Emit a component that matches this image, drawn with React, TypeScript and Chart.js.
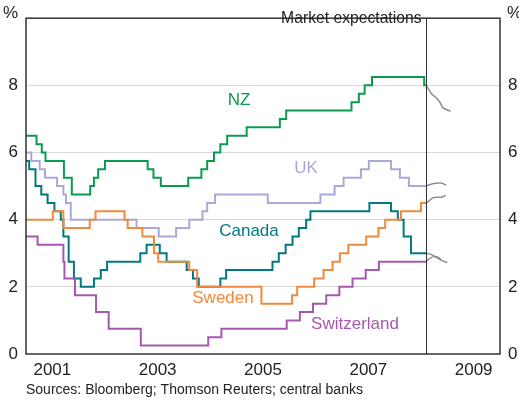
import React, { useEffect, useRef } from 'react';
import { Chart, registerables } from 'chart.js';
Chart.register(...registerables);

// ---- Data (decimal years, policy rates %) ----
const nzDates = [2001.0, 2001.2, 2001.3, 2001.37, 2001.72, 2001.87, 2002.22, 2002.29, 2002.37, 2002.5, 2003.31, 2003.42, 2003.56, 2004.08, 2004.33, 2004.44, 2004.57, 2004.69, 2004.82, 2005.19, 2005.82, 2005.94, 2007.18, 2007.32, 2007.43, 2007.57, 2008.56, 2008.6];
const nzRates = [6.5, 6.25, 6.0, 5.75, 5.25, 4.75, 5.0, 5.25, 5.5, 5.75, 5.5, 5.25, 5.0, 5.25, 5.5, 5.75, 6.0, 6.25, 6.5, 6.75, 7.0, 7.25, 7.5, 7.75, 8.0, 8.25, 8.0, 8.0];

const ukDates = [2001.0, 2001.1, 2001.26, 2001.36, 2001.59, 2001.71, 2001.76, 2001.85, 2003.1, 2003.52, 2003.85, 2004.1, 2004.35, 2004.44, 2004.59, 2005.59, 2006.59, 2006.86, 2007.03, 2007.36, 2007.51, 2007.93, 2008.1, 2008.27, 2008.6];
const ukRates = [6.0, 5.75, 5.5, 5.25, 5.0, 4.75, 4.5, 4.0, 3.75, 3.5, 3.75, 4.0, 4.25, 4.5, 4.75, 4.5, 4.75, 5.0, 5.25, 5.5, 5.75, 5.5, 5.25, 5.0, 5.0];

const canadaDates = [2001.0, 2001.06, 2001.18, 2001.29, 2001.41, 2001.54, 2001.66, 2001.71, 2001.81, 2001.91, 2002.04, 2002.29, 2002.42, 2002.54, 2003.17, 2003.29, 2003.54, 2003.67, 2004.05, 2004.17, 2004.28, 2004.69, 2004.8, 2005.68, 2005.8, 2005.93, 2006.06, 2006.18, 2006.32, 2006.4, 2007.52, 2007.93, 2008.06, 2008.17, 2008.31, 2008.6];
const canadaRates = [5.75, 5.5, 5.0, 4.75, 4.5, 4.25, 4.0, 3.5, 2.75, 2.25, 2.0, 2.25, 2.5, 2.75, 3.0, 3.25, 3.0, 2.75, 2.5, 2.25, 2.0, 2.25, 2.5, 2.75, 3.0, 3.25, 3.5, 3.75, 4.0, 4.25, 4.5, 4.25, 4.0, 3.5, 3.0, 3.0];

const swedenDates = [2001.0, 2001.51, 2001.71, 2002.21, 2002.32, 2002.87, 2002.93, 2003.21, 2003.43, 2003.51, 2004.1, 2004.25, 2005.47, 2006.05, 2006.15, 2006.47, 2006.65, 2006.82, 2006.96, 2007.12, 2007.46, 2007.69, 2007.82, 2008.12, 2008.5, 2008.6];
const swedenRates = [4.0, 4.25, 3.75, 4.0, 4.25, 4.0, 3.75, 3.5, 3.0, 2.75, 2.5, 2.0, 1.5, 1.75, 2.0, 2.25, 2.5, 2.75, 3.0, 3.25, 3.5, 3.75, 4.0, 4.25, 4.5, 4.5];

const swissDates = [2001.0, 2001.22, 2001.71, 2001.73, 2001.93, 2002.33, 2002.57, 2003.18, 2004.46, 2004.71, 2005.95, 2006.2, 2006.45, 2006.7, 2006.95, 2007.2, 2007.45, 2007.7, 2008.6];
const swissRates = [3.5, 3.25, 2.75, 2.25, 1.75, 1.25, 0.75, 0.25, 0.5, 0.75, 1.0, 1.25, 1.5, 1.75, 2.0, 2.25, 2.5, 2.75, 2.75];

// Market expectations
const nzExpDates = [2008.6, 2008.695, 2008.78, 2008.85, 2008.92, 2009.06];
const nzExpRates = [8.0, 7.76, 7.64, 7.52, 7.33, 7.23];
const ukExpDates = [2008.6, 2008.72, 2008.88, 2008.98];
const ukExpRates = [5.0, 5.07, 5.09, 5.03];
const swedenExpDates = [2008.6, 2008.68, 2008.74, 2008.9, 2008.97];
const swedenExpRates = [4.5, 4.6, 4.66, 4.67, 4.73];
const canadaExpDates = [2008.6, 2008.7, 2008.8, 2008.9, 2009.0];
const canadaExpRates = [3.0, 2.96, 2.87, 2.78, 2.72];
const swissExpDates = [2008.6, 2008.66, 2008.74, 2008.82, 2008.88];
const swissExpRates = [2.75, 2.84, 2.9, 2.88, 2.82];

const expectationsStart = 2008.6;

const xTickPositions = [2001.5, 2003.5, 2005.5, 2007.5, 2009.5];
const xTickLabels = ['2001', '2003', '2005', '2007', '2009'];
const yMin = 0;
const yMax = 10;
const yStep = 2;

const FONT = 'Arial, "Liberation Sans", Helvetica, sans-serif';
const COLORS = {
  nz: '#0b9a50',
  uk: '#a9a9d9',
  canada: '#007a80',
  sweden: '#ef8a3e',
  swiss: '#a658ae',
  exp: '#8e8e8e',
};

const pts = (xs: number[], ys: number[]) => xs.map((x, i) => ({ x, y: ys[i] }));

const labelsPlugin = {
  id: 'annotations',
  afterDraw(chart: any) {
    const { ctx, chartArea, scales } = chart;
    const { left, right, top, bottom } = chartArea;
    ctx.save();
    // vertical line
    const vx = Math.round(scales.x.getPixelForValue(expectationsStart)) + 0.5;
    ctx.strokeStyle = '#333';
    ctx.lineWidth = 1;
    ctx.beginPath();
    ctx.moveTo(vx, top);
    ctx.lineTo(vx, bottom);
    ctx.stroke();
    // box
    ctx.strokeStyle = '#333';
    ctx.lineWidth = 1.5;
    ctx.strokeRect(left, top, right - left, bottom - top);

    ctx.textBaseline = 'middle';
    ctx.fillStyle = '#222';
    ctx.font = `15.7px ${FONT}`;
    ctx.textAlign = 'right';
    ctx.fillText('Market expectations', vx - 5, 19);

    ctx.font = `17px ${FONT}`;
    ctx.textAlign = 'right';
    ctx.fillText('%', left - 8, 13);
    ctx.textAlign = 'left';
    ctx.fillText('%', right + 7, 13);

    ctx.font = `14px ${FONT}`;
    ctx.textAlign = 'left';
    ctx.fillText('Sources: Bloomberg; Thomson Reuters; central banks', left, 390);

    const lbl = (t: string, c: string, x: number, y: number) => {
      ctx.fillStyle = c;
      ctx.textAlign = 'center';
      ctx.font = `17px ${FONT}`;
      ctx.fillText(t, x, y);
    };
    lbl('NZ', COLORS.nz, 239, 100);
    lbl('UK', COLORS.uk, 306, 168);
    lbl('Canada', COLORS.canada, 249, 231);
    lbl('Sweden', COLORS.sweden, 223, 298);
    lbl('Switzerland', COLORS.swiss, 355, 324);
    ctx.restore();
  },
};

export default function App() {
  const ref = useRef<HTMLCanvasElement | null>(null);
  useEffect(() => {
    document.body.style.margin = '0';
    if (!ref.current) return;
    const step = (data: any, color: string) => ({
      data,
      borderColor: color,
      borderWidth: 2,
      stepped: true,
      pointRadius: 0,
      fill: false,
      borderJoinStyle: 'miter',
      yAxisID: 'y',
    });
    const exp = (data: any) => ({
      data,
      borderColor: COLORS.exp,
      borderWidth: 1.5,
      tension: 0.3,
      pointRadius: 0,
      fill: false,
      yAxisID: 'y',
    });
    const chart = new Chart(ref.current, {
      type: 'line',
      data: {
        datasets: [
          step(pts(swissDates, swissRates), COLORS.swiss),
          step(pts(swedenDates, swedenRates), COLORS.sweden),
          step(pts(ukDates, ukRates), COLORS.uk),
          step(pts(canadaDates, canadaRates), COLORS.canada),
          step(pts(nzDates, nzRates), COLORS.nz),
          exp(pts(nzExpDates, nzExpRates)),
          exp(pts(ukExpDates, ukExpRates)),
          exp(pts(swedenExpDates, swedenExpRates)),
          exp(pts(canadaExpDates, canadaExpRates)),
          exp(pts(swissExpDates, swissExpRates)),
        ] as any,
      },
      options: {
        animation: false,
        responsive: false,
        events: [],
        layout: { padding: { top: 5, left: 0, right: 0, bottom: 0 } },
        plugins: { legend: { display: false }, tooltip: { enabled: false } },
        scales: {
          x: {
            type: 'linear',
            min: 2001,
            max: 2010,
            grid: { display: false, drawTicks: false },
            border: { display: false },
            afterBuildTicks: (scale: any) => {
              scale.ticks = xTickPositions.map((v) => ({ value: v }));
            },
            afterFit: (scale: any) => {
              scale.height = 46;
            },
            ticks: {
              autoSkip: false,
              maxRotation: 0,
              padding: 6,
              color: '#222',
              font: { family: FONT, size: 17 },
              callback: (_v: any, i: number) => xTickLabels[i],
            },
          },
          y: {
            position: 'left',
            min: yMin,
            max: yMax,
            grid: {
              drawTicks: false,
              color: (c: any) => (c.tick && (c.tick.value === yMin || c.tick.value === yMax) ? 'rgba(0,0,0,0)' : '#d9d9d9'),
              lineWidth: 1,
            },
            border: { display: false },
            afterFit: (scale: any) => {
              scale.width = 26;
            },
            ticks: {
              stepSize: yStep,
              padding: 8,
              color: '#222',
              font: { family: FONT, size: 17 },
              callback: (v: any) => (v === yMax ? '' : String(v)),
            },
          },
          y2: {
            position: 'right',
            min: yMin,
            max: yMax,
            grid: { display: false, drawTicks: false },
            border: { display: false },
            afterFit: (scale: any) => {
              scale.width = 19;
            },
            ticks: {
              stepSize: yStep,
              padding: 8,
              color: '#222',
              font: { family: FONT, size: 17 },
              callback: (v: any) => (v === yMax ? '' : String(v)),
            },
          },
        },
      } as any,
      plugins: [labelsPlugin],
    });
    return () => chart.destroy();
  }, []);
  return <canvas ref={ref} width={519} height={400} style={{ display: 'block' }} />;
}
